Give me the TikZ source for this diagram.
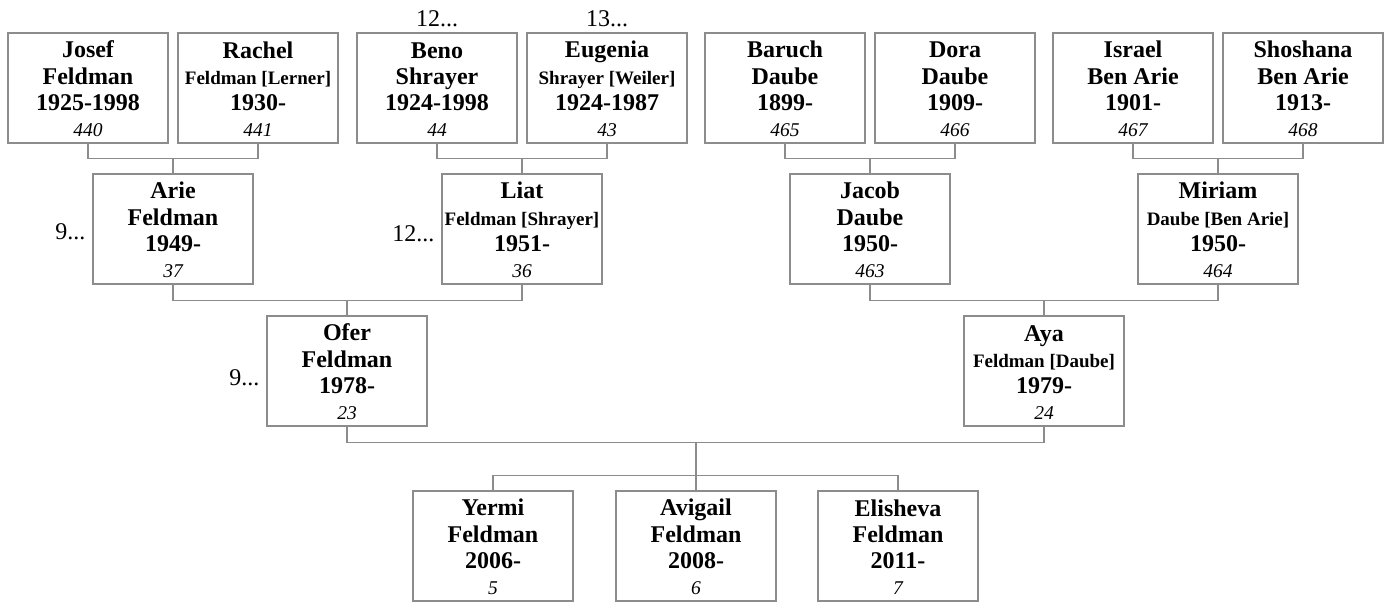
\documentclass[tikz,border=0pt]{standalone}
\usepackage{fontspec}
\setmainfont{Liberation Serif}
\usetikzlibrary{positioning}

\definecolor{boxgray}{RGB}{140,140,140}
\newcommand{\maiden}[1]{{\fontsize{19}{26.3}\selectfont #1}}
\newcommand{\person}[4]{\rule{0pt}{19pt}#1\\#2\\#3\\{\fontsize{19.5}{26.3}\selectfont\mdseries\itshape #4}}

\begin{document}
\begin{tikzpicture}[x=1pt,y=1pt,
  pbox/.style={draw=boxgray,line width=1.1pt,rectangle,minimum width=160pt,minimum height=110pt,
    text width=160pt,inner sep=0pt,align=flush center,font=\fontsize{24}{26.3}\selectfont\bfseries},
  link/.style={draw=boxgray,line width=1.1pt},
  more/.style={inner sep=0pt,font=\fontsize{24}{26.3}\selectfont}]

\useasboundingbox (0,0) rectangle (1387,602);

\node (josef) [pbox] at (88,514) {\person{Josef}{Feldman}{1925-1998}{440}};
\node (rachel) [pbox] at (258,514) {\person{Rachel}{\maiden{Feldman [Lerner]}}{1930-}{441}};
\node (beno) [pbox] at (437,514) {\person{Beno}{Shrayer}{1924-1998}{44}};
\node (eugenia) [pbox] at (607,514) {\person{Eugenia}{\maiden{Shrayer [Weiler]}}{1924-1987}{43}};
\node (baruch) [pbox] at (785,514) {\person{Baruch}{Daube}{1899-}{465}};
\node (dora) [pbox] at (955,514) {\person{Dora}{Daube}{1909-}{466}};
\node (israel) [pbox] at (1133,514) {\person{Israel}{Ben Arie}{1901-}{467}};
\node (shoshana) [pbox] at (1303,514) {\person{Shoshana}{Ben Arie}{1913-}{468}};

\node (arie) [pbox] at (173,373) {\person{Arie}{Feldman}{1949-}{37}};
\node (liat) [pbox] at (522,373) {\person{Liat}{\maiden{Feldman [Shrayer]}}{1951-}{36}};
\node (jacob) [pbox] at (870,373) {\person{Jacob}{Daube}{1950-}{463}};
\node (miriam) [pbox] at (1218,373) {\person{Miriam}{\maiden{Daube [Ben Arie]}}{1950-}{464}};

\node (ofer) [pbox] at (347,231) {\person{Ofer}{Feldman}{1978-}{23}};
\node (aya) [pbox] at (1044,231) {\person{Aya}{\maiden{Feldman [Daube]}}{1979-}{24}};

\node (yermi) [pbox] at (493,56) {\person{Yermi}{Feldman}{2006-}{5}};
\node (avigail) [pbox] at (696,56) {\person{Avigail}{Feldman}{2008-}{6}};
\node (elisheva) [pbox] at (898,56) {\person{Elisheva}{Feldman}{2011-}{7}};

\node (beno-more) [more,above=6pt of beno,anchor=base] {12...};
\node (eugenia-more) [more,above=6pt of eugenia,anchor=base] {13...};
\node (arie-more) [more,left=7pt of arie,yshift=-3pt] {9...};
\node (liat-more) [more,left=7pt of liat,yshift=-5pt] {12...};
\node (ofer-more) [more,left=7pt of ofer,yshift=-7pt] {9...};

\draw[link] (josef.south) -- ++(0,-15) coordinate (j1) -| (rachel.south);
\draw[link] (arie.north) -- (arie.north |- j1);
\draw[link] (beno.south) -- ++(0,-15) coordinate (j2) -| (eugenia.south);
\draw[link] (liat.north) -- (liat.north |- j2);
\draw[link] (baruch.south) -- ++(0,-15) coordinate (j3) -| (dora.south);
\draw[link] (jacob.north) -- (jacob.north |- j3);
\draw[link] (israel.south) -- ++(0,-15) coordinate (j4) -| (shoshana.south);
\draw[link] (miriam.north) -- (miriam.north |- j4);

\draw[link] (arie.south) -- ++(0,-16) coordinate (j5) -| (liat.south);
\draw[link] (ofer.north) -- (ofer.north |- j5);
\draw[link] (jacob.south) -- ++(0,-16) coordinate (j6) -| (miriam.south);
\draw[link] (aya.north) -- (aya.north |- j6);

\draw[link] (ofer.south) -- ++(0,-16) coordinate (j7) -| (aya.south);
\draw[link] (yermi.north) -- ++(0,15) coordinate (j8) -| (elisheva.north);
\draw[link] (avigail.north) -- (avigail.north |- j7);

\end{tikzpicture}
\end{document}
